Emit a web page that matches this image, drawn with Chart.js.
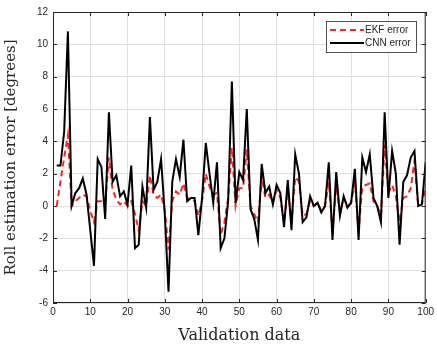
<!DOCTYPE html>
<html>
<head>
<meta charset="utf-8">
<script src="https://cdn.jsdelivr.net/npm/chart.js@4"></script>
<style>
html,body{margin:0;padding:0;background:#fff;}
#wrap{width:437px;height:345px;}
</style>
</head>
<body>
<div id="wrap"><canvas id="c" width="437" height="345"></canvas></div>
<script>
const xValues = Array.from({length:100}, (_, i) => i + 1);
const ekfError = [
  0.0, 1.5, 3.0, 4.4, 0.0, 0.3, 0.5, 0.7, 0.6, -0.3,
  -1.0, 0.3, 0.3, 0.2, 3.0, 1.0, 0.4, 0.1, 0.3, 0.0,
  0.3, -0.5, -1.5, 0.3, 0.0, 1.9, 0.7, 0.5, 0.7, -0.3,
  -2.7, 0.3, 0.9, 0.7, 1.4, 0.5, 0.4, 0.3, -0.6, 0.3,
  2.0, 1.2, 0.7, 0.8, -1.8, -1.0, 0.5, 3.6, 0.0, 1.1,
  1.1, 3.5, 0.0, -0.5, -1.0, 1.8, 0.5, 0.7, 0.2, 1.0,
  0.5, -1.0, 1.0, -1.0, 1.8, 1.5, -0.6, -0.5, 0.3, 0.0,
  0.2, -0.3, 0.0, 1.5, -1.5, 1.2, -0.4, 0.5, 0.0, 0.2,
  1.5, -1.5, 1.2, 1.3, 1.4, 0.3, 0.0, -0.6, 3.8, 0.8,
  1.3, 0.6, -1.0, 0.5, 0.6, 1.1, 2.8, 0.0, 0.1, 1.2
];
const cnnError = [
  2.5, 2.5, 4.6, 10.8, 0.0, 0.8, 1.1, 1.7, 0.7, -1.5,
  -3.7, 2.9, 2.4, -0.8, 5.8, 1.5, 1.9, 0.6, 0.9, 0.1,
  2.5, -2.6, -2.4, 1.2, -0.1, 5.5, 1.0, 1.5, 2.9, -0.5,
  -5.3, 1.5, 2.9, 1.8, 4.1, 0.3, 0.5, 0.5, -1.8, 0.5,
  3.9, 2.0, 0.2, 2.7, -2.6, -2.0, 0.3, 7.7, 0.2, 2.1,
  1.6, 6.0, -0.2, -0.8, -2.1, 2.6, 0.8, 1.2, 0.1, 1.3,
  0.8, -1.3, 1.6, -1.5, 3.2, 2.0, -1.0, -0.7, 0.6, 0.0,
  0.2, -0.4, 0.0, 2.7, -2.1, 2.1, -0.6, 0.6, -0.1, 0.2,
  2.3, -2.1, 3.0, 2.1, 3.2, 0.5, 0.0, -1.0, 5.8, 0.5,
  3.4, 2.0, -2.4, 1.5, 1.9, 3.0, 3.4, 0.0, 0.1, 2.7
];
const seriesNames = ['EKF error', 'CNN error'];
const xTitle = 'Validation data';
const yTitle = 'Roll estimation error [degrees]';

const tickFont = {family: "'Liberation Sans', Arial, sans-serif", size: 10};
const serif = "'DejaVu Serif', 'Liberation Serif', serif";

const boxPlugin = {
  id: 'boxPlugin',
  afterDatasetsDraw(chart) {
    const {ctx, chartArea: a, scales} = chart;
    ctx.save();
    ctx.strokeStyle = '#262626';
    ctx.lineWidth = 1;
    ctx.strokeRect(a.left + 0.5, a.top + 0.5, a.right - a.left - 1, a.bottom - a.top - 1);
    const tl = 4;
    ctx.beginPath();
    scales.x.ticks.forEach(t => {
      const p = Math.round(scales.x.getPixelForValue(t.value)) + 0.5;
      ctx.moveTo(p, a.bottom); ctx.lineTo(p, a.bottom - tl);
      ctx.moveTo(p, a.top); ctx.lineTo(p, a.top + tl);
    });
    scales.y.ticks.forEach(t => {
      const p = Math.round(scales.y.getPixelForValue(t.value)) + 0.5;
      ctx.moveTo(a.left, p); ctx.lineTo(a.left + tl, p);
      ctx.moveTo(a.right, p); ctx.lineTo(a.right - tl, p);
    });
    ctx.stroke();

    // legend
    const lx = 326, ly = 21, lw = 90, lh = 31;
    ctx.fillStyle = '#fff';
    ctx.fillRect(lx, ly, lw, lh);
    ctx.strokeStyle = '#262626';
    ctx.lineWidth = 0.8;
    ctx.strokeRect(lx + 0.5, ly + 0.5, lw, lh);
    const ds = chart.data.datasets;
    const rows = [ly + 9, ly + 22];
    ds.forEach((d, i) => {
      ctx.beginPath();
      ctx.strokeStyle = d.borderColor;
      ctx.lineWidth = d.borderWidth;
      ctx.setLineDash(d.borderDash || []);
      ctx.moveTo(lx + 4, rows[i]); ctx.lineTo(lx + 38, rows[i]);
      ctx.stroke();
      ctx.setLineDash([]);
      ctx.fillStyle = '#262626';
      ctx.font = "10px 'Liberation Sans', Arial, sans-serif";
      ctx.textBaseline = 'middle';
      ctx.textAlign = 'left';
      ctx.fillText(d.label, lx + 39, rows[i] + 0.5);
    });
    ctx.restore();
  }
};

new Chart(document.getElementById('c'), {
  type: 'line',
  data: {
    labels: xValues,
    datasets: [
      {
        label: seriesNames[0],
        data: xValues.map((x, i) => ({x: x, y: ekfError[i]})),
        borderColor: 'rgb(255,35,35)',
        borderWidth: 2,
        borderDash: [6, 4],
        pointRadius: 0,
        tension: 0,
        order: 2
      },
      {
        label: seriesNames[1],
        data: xValues.map((x, i) => ({x: x, y: cnnError[i]})),
        borderColor: '#000000',
        borderWidth: 2,
        pointRadius: 0,
        tension: 0,
        order: 1
      }
    ]
  },
  options: {
    responsive: false,
    animation: false,
    devicePixelRatio: 1,
    layout: {padding: {top: 12, right: 11, left: 0, bottom: 0}},
    plugins: {legend: {display: false}, tooltip: {enabled: false}},
    scales: {
      x: {
        type: 'linear', min: 0, max: 100,
        ticks: {stepSize: 10, font: tickFont, color: '#262626', padding: 3, maxRotation: 0},
        grid: {color: '#e0e0e0', drawTicks: false, lineWidth: 1},
        border: {display: false},
        title: {display: true, text: xTitle, font: {family: serif, size: 16}, color: '#262626', padding: {top: 2, bottom: 0}},
        afterFit(s) { s.height = 42; }
      },
      y: {
        min: -6, max: 12,
        ticks: {stepSize: 2, font: tickFont, color: '#262626', padding: 5},
        grid: {color: '#e0e0e0', drawTicks: false, lineWidth: 1},
        border: {display: false},
        title: {display: true, text: yTitle, font: {family: serif, size: 15}, color: '#262626', padding: {top: 2, bottom: 4}},
        afterFit(s) { s.width = 53; }
      }
    }
  },
  plugins: [boxPlugin]
});
</script>
</body>
</html>
